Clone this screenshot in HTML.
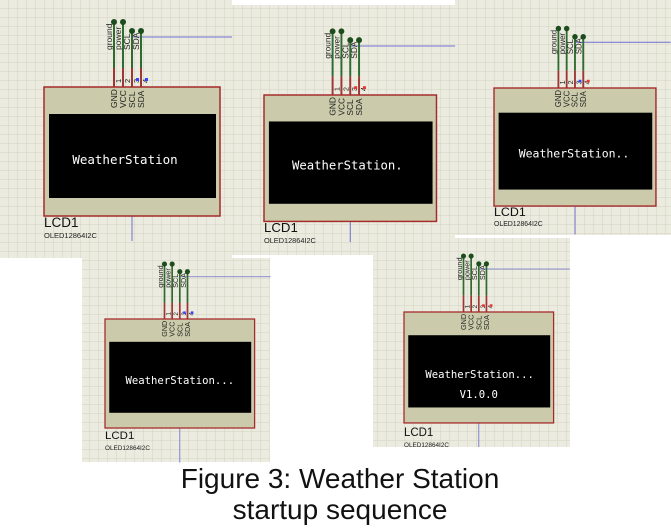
<!DOCTYPE html>
<html><head><meta charset="utf-8"><style>
html,body{margin:0;padding:0;background:#fff;}
svg{display:block;}
.lbl{font-family:"Liberation Sans",Arial,sans-serif;font-size:8.5px;fill:#222;}
.num{font-family:"Liberation Sans",Arial,sans-serif;font-size:7.5px;fill:#222;}
.scr{font-family:"DejaVu Sans Mono","Liberation Mono",monospace;font-size:12.5px;fill:#fff;}
.cap{font-family:"Liberation Sans",Arial,sans-serif;font-size:28px;fill:#111;}
.l1{font-family:"Liberation Sans",Arial,sans-serif;font-size:13.5px;fill:#111;}
.l2{font-family:"Liberation Sans",Arial,sans-serif;font-size:7.5px;fill:#222;}
</style></head><body>
<svg width="671" height="532" viewBox="0 0 671 532" xmlns="http://www.w3.org/2000/svg">
<defs>
<pattern id="g" width="9" height="9" patternUnits="userSpaceOnUse">
<rect width="9" height="9" fill="#ebebdf"/>
<path d="M9 0V9M0 9H9" stroke="#d3d3c3" stroke-width="1" fill="none"/>
</pattern>
</defs>
<rect x="0" y="0" width="232" height="258" fill="url(#g)"/>
<rect x="232" y="5" width="223" height="250" fill="url(#g)"/>
<rect x="455" y="0" width="216" height="235" fill="url(#g)"/>
<rect x="82" y="258" width="188" height="204" fill="url(#g)"/>
<rect x="373" y="238" width="197" height="209" fill="url(#g)"/>

<!-- Panel 1 -->
<g transform="translate(44,87)">
<line x1="88" y1="-50" x2="188" y2="-50" stroke="#7070d0" stroke-width="1"/>
<line x1="88" y1="129" x2="88" y2="154" stroke="#7070d0" stroke-width="1"/>
<g stroke-width="2">
<line x1="70" y1="-65" x2="70" y2="-19" stroke="#2f6b2f"/><line x1="70" y1="-19" x2="70" y2="0" stroke="#a03535"/>
<line x1="79" y1="-65" x2="79" y2="-19" stroke="#2f6b2f"/><line x1="79" y1="-19" x2="79" y2="0" stroke="#a03535"/>
<line x1="88" y1="-56" x2="88" y2="-19" stroke="#2f6b2f"/><line x1="88" y1="-19" x2="88" y2="0" stroke="#a03535"/>
<line x1="97" y1="-56" x2="97" y2="-19" stroke="#2f6b2f"/><line x1="97" y1="-19" x2="97" y2="0" stroke="#a03535"/>
</g>
<circle cx="70" cy="-65" r="3" fill="#1d4d1d"/><circle cx="79" cy="-65" r="3" fill="#1d4d1d"/>
<circle cx="88" cy="-56" r="3" fill="#1d4d1d"/><circle cx="97" cy="-56" r="3" fill="#1d4d1d"/>
<text class="lbl" transform="translate(68,-37) rotate(-90)">ground</text>
<text class="lbl" transform="translate(77,-37) rotate(-90)">power</text>
<text class="lbl" transform="translate(86,-37) rotate(-90)">SCL</text>
<text class="lbl" transform="translate(95,-37) rotate(-90)">SDA</text>
<text class="num" transform="translate(77,-4) rotate(-90)">1</text>
<text class="num" transform="translate(86,-4) rotate(-90)">2</text>
<text class="num" transform="translate(95,-4) rotate(-90)">3</text>
<text class="num" transform="translate(104,-4) rotate(-90)">4</text>
<rect x="92" y="-9" width="3" height="3" fill="#3344ff"/><rect x="101" y="-9" width="3" height="3" fill="#3344ff"/>
<rect x="0" y="0" width="176" height="129" fill="#cbcbab" stroke="#a52a2a" stroke-width="1.5"/>
<text class="lbl" transform="translate(73,21) rotate(-90)">GND</text>
<text class="lbl" transform="translate(82,21) rotate(-90)">VCC</text>
<text class="lbl" transform="translate(91,21) rotate(-90)">SCL</text>
<text class="lbl" transform="translate(100,21) rotate(-90)">SDA</text>
<rect x="5" y="27" width="167" height="84" fill="#000"/>
<text class="scr" x="81" y="77" text-anchor="middle">WeatherStation</text>
<text class="l1" x="0" y="140">LCD1</text>
<text class="l2" x="0" y="151">OLED12864I2C</text>
</g>

<!-- Panel 2 -->
<g transform="translate(264,95) scale(0.98,0.98)">
<line x1="88" y1="-50" x2="195" y2="-50" stroke="#7070d0" stroke-width="1"/>
<line x1="88" y1="129" x2="88" y2="150" stroke="#7070d0" stroke-width="1"/>
<g stroke-width="2">
<line x1="70" y1="-65" x2="70" y2="-19" stroke="#2f6b2f"/><line x1="70" y1="-19" x2="70" y2="0" stroke="#a03535"/>
<line x1="79" y1="-65" x2="79" y2="-19" stroke="#2f6b2f"/><line x1="79" y1="-19" x2="79" y2="0" stroke="#a03535"/>
<line x1="88" y1="-56" x2="88" y2="-19" stroke="#2f6b2f"/><line x1="88" y1="-19" x2="88" y2="0" stroke="#a03535"/>
<line x1="97" y1="-56" x2="97" y2="-19" stroke="#2f6b2f"/><line x1="97" y1="-19" x2="97" y2="0" stroke="#a03535"/>
</g>
<circle cx="70" cy="-65" r="3" fill="#1d4d1d"/><circle cx="79" cy="-65" r="3" fill="#1d4d1d"/>
<circle cx="88" cy="-56" r="3" fill="#1d4d1d"/><circle cx="97" cy="-56" r="3" fill="#1d4d1d"/>
<text class="lbl" transform="translate(68,-37) rotate(-90)">ground</text>
<text class="lbl" transform="translate(77,-37) rotate(-90)">power</text>
<text class="lbl" transform="translate(86,-37) rotate(-90)">SCL</text>
<text class="lbl" transform="translate(95,-37) rotate(-90)">SDA</text>
<text class="num" transform="translate(77,-4) rotate(-90)">1</text>
<text class="num" transform="translate(86,-4) rotate(-90)">2</text>
<text class="num" transform="translate(95,-4) rotate(-90)">3</text>
<text class="num" transform="translate(104,-4) rotate(-90)">4</text>
<rect x="92" y="-9" width="3" height="3" fill="#ee3333"/><rect x="101" y="-9" width="3" height="3" fill="#ee3333"/>
<rect x="0" y="0" width="176" height="129" fill="#cbcbab" stroke="#a52a2a" stroke-width="1.5"/>
<text class="lbl" transform="translate(73,21) rotate(-90)">GND</text>
<text class="lbl" transform="translate(82,21) rotate(-90)">VCC</text>
<text class="lbl" transform="translate(91,21) rotate(-90)">SCL</text>
<text class="lbl" transform="translate(100,21) rotate(-90)">SDA</text>
<rect x="5" y="27" width="167" height="84" fill="#000"/>
<text class="scr" x="85" y="76" text-anchor="middle">WeatherStation.</text>
<text class="l1" x="0" y="140">LCD1</text>
<text class="l2" x="0" y="151">OLED12864I2C</text>
</g>

<!-- Panel 3 -->
<g transform="translate(494,88) scale(0.92,0.915)">
<line x1="88" y1="-50" x2="192" y2="-50" stroke="#7070d0" stroke-width="1"/>
<line x1="88" y1="129" x2="88" y2="160" stroke="#7070d0" stroke-width="1"/>
<g stroke-width="2">
<line x1="70" y1="-65" x2="70" y2="-19" stroke="#2f6b2f"/><line x1="70" y1="-19" x2="70" y2="0" stroke="#a03535"/>
<line x1="79" y1="-65" x2="79" y2="-19" stroke="#2f6b2f"/><line x1="79" y1="-19" x2="79" y2="0" stroke="#a03535"/>
<line x1="88" y1="-56" x2="88" y2="-19" stroke="#2f6b2f"/><line x1="88" y1="-19" x2="88" y2="0" stroke="#a03535"/>
<line x1="97" y1="-56" x2="97" y2="-19" stroke="#2f6b2f"/><line x1="97" y1="-19" x2="97" y2="0" stroke="#a03535"/>
</g>
<circle cx="70" cy="-65" r="3" fill="#1d4d1d"/><circle cx="79" cy="-65" r="3" fill="#1d4d1d"/>
<circle cx="88" cy="-56" r="3" fill="#1d4d1d"/><circle cx="97" cy="-56" r="3" fill="#1d4d1d"/>
<text class="lbl" transform="translate(68,-37) rotate(-90)">ground</text>
<text class="lbl" transform="translate(77,-37) rotate(-90)">power</text>
<text class="lbl" transform="translate(86,-37) rotate(-90)">SCL</text>
<text class="lbl" transform="translate(95,-37) rotate(-90)">SDA</text>
<text class="num" transform="translate(77,-4) rotate(-90)">1</text>
<text class="num" transform="translate(86,-4) rotate(-90)">2</text>
<text class="num" transform="translate(95,-4) rotate(-90)">3</text>
<text class="num" transform="translate(104,-4) rotate(-90)">4</text>
<rect x="92" y="-9" width="3" height="3" fill="#3344ff"/><rect x="101" y="-9" width="3" height="3" fill="#ee3333"/>
<rect x="0" y="0" width="176" height="129" fill="#cbcbab" stroke="#a52a2a" stroke-width="1.5"/>
<text class="lbl" transform="translate(73,21) rotate(-90)">GND</text>
<text class="lbl" transform="translate(82,21) rotate(-90)">VCC</text>
<text class="lbl" transform="translate(91,21) rotate(-90)">SCL</text>
<text class="lbl" transform="translate(100,21) rotate(-90)">SDA</text>
<rect x="5" y="27" width="167" height="84" fill="#000"/>
<text class="scr" x="87" y="76" text-anchor="middle">WeatherStation..</text>
<text class="l1" x="0" y="140">LCD1</text>
<text class="l2" x="0" y="151">OLED12864I2C</text>
</g>

<!-- Panel 4 -->
<g transform="translate(105,319) scale(0.85,0.845)">
<line x1="88" y1="-50" x2="195" y2="-50" stroke="#7070d0" stroke-width="1"/>
<line x1="88" y1="129" x2="88" y2="170" stroke="#7070d0" stroke-width="1"/>
<g stroke-width="2">
<line x1="70" y1="-65" x2="70" y2="-19" stroke="#2f6b2f"/><line x1="70" y1="-19" x2="70" y2="0" stroke="#a03535"/>
<line x1="79" y1="-65" x2="79" y2="-19" stroke="#2f6b2f"/><line x1="79" y1="-19" x2="79" y2="0" stroke="#a03535"/>
<line x1="88" y1="-56" x2="88" y2="-19" stroke="#2f6b2f"/><line x1="88" y1="-19" x2="88" y2="0" stroke="#a03535"/>
<line x1="97" y1="-56" x2="97" y2="-19" stroke="#2f6b2f"/><line x1="97" y1="-19" x2="97" y2="0" stroke="#a03535"/>
</g>
<circle cx="70" cy="-65" r="3" fill="#1d4d1d"/><circle cx="79" cy="-65" r="3" fill="#1d4d1d"/>
<circle cx="88" cy="-56" r="3" fill="#1d4d1d"/><circle cx="97" cy="-56" r="3" fill="#1d4d1d"/>
<text class="lbl" transform="translate(68,-37) rotate(-90)">ground</text>
<text class="lbl" transform="translate(77,-37) rotate(-90)">power</text>
<text class="lbl" transform="translate(86,-37) rotate(-90)">SCL</text>
<text class="lbl" transform="translate(95,-37) rotate(-90)">SDA</text>
<text class="num" transform="translate(77,-4) rotate(-90)">1</text>
<text class="num" transform="translate(86,-4) rotate(-90)">2</text>
<text class="num" transform="translate(95,-4) rotate(-90)">3</text>
<text class="num" transform="translate(104,-4) rotate(-90)">4</text>
<rect x="92" y="-9" width="3" height="3" fill="#3344ff"/><rect x="101" y="-9" width="3" height="3" fill="#3344ff"/>
<rect x="0" y="0" width="176" height="129" fill="#cbcbab" stroke="#a52a2a" stroke-width="1.5"/>
<text class="lbl" transform="translate(73,21) rotate(-90)">GND</text>
<text class="lbl" transform="translate(82,21) rotate(-90)">VCC</text>
<text class="lbl" transform="translate(91,21) rotate(-90)">SCL</text>
<text class="lbl" transform="translate(100,21) rotate(-90)">SDA</text>
<rect x="5" y="27" width="167" height="84" fill="#000"/>
<text class="scr" x="88" y="77" text-anchor="middle">WeatherStation...</text>
<text class="l1" x="0" y="142" font-size="15">LCD1</text>
<text class="l2" x="0" y="155" font-size="8.5">OLED12864I2C</text>
</g>

<!-- Panel 5 -->
<g transform="translate(404,312) scale(0.85,0.86)">
<line x1="88" y1="-50" x2="195" y2="-50" stroke="#7070d0" stroke-width="1"/>
<line x1="88" y1="129" x2="88" y2="157" stroke="#7070d0" stroke-width="1"/>
<g stroke-width="2">
<line x1="70" y1="-65" x2="70" y2="-19" stroke="#2f6b2f"/><line x1="70" y1="-19" x2="70" y2="0" stroke="#a03535"/>
<line x1="79" y1="-65" x2="79" y2="-19" stroke="#2f6b2f"/><line x1="79" y1="-19" x2="79" y2="0" stroke="#a03535"/>
<line x1="88" y1="-56" x2="88" y2="-19" stroke="#2f6b2f"/><line x1="88" y1="-19" x2="88" y2="0" stroke="#a03535"/>
<line x1="97" y1="-56" x2="97" y2="-19" stroke="#2f6b2f"/><line x1="97" y1="-19" x2="97" y2="0" stroke="#a03535"/>
</g>
<circle cx="70" cy="-65" r="3" fill="#1d4d1d"/><circle cx="79" cy="-65" r="3" fill="#1d4d1d"/>
<circle cx="88" cy="-56" r="3" fill="#1d4d1d"/><circle cx="97" cy="-56" r="3" fill="#1d4d1d"/>
<text class="lbl" transform="translate(68,-37) rotate(-90)">ground</text>
<text class="lbl" transform="translate(77,-37) rotate(-90)">power</text>
<text class="lbl" transform="translate(86,-37) rotate(-90)">SCL</text>
<text class="lbl" transform="translate(95,-37) rotate(-90)">SDA</text>
<text class="num" transform="translate(77,-4) rotate(-90)">1</text>
<text class="num" transform="translate(86,-4) rotate(-90)">2</text>
<text class="num" transform="translate(95,-4) rotate(-90)">3</text>
<text class="num" transform="translate(104,-4) rotate(-90)">4</text>
<rect x="92" y="-9" width="3" height="3" fill="#ee3333"/><rect x="101" y="-9" width="3" height="3" fill="#ee3333"/>
<rect x="0" y="0" width="176" height="129" fill="#cbcbab" stroke="#a52a2a" stroke-width="1.5"/>
<text class="lbl" transform="translate(73,21) rotate(-90)">GND</text>
<text class="lbl" transform="translate(82,21) rotate(-90)">VCC</text>
<text class="lbl" transform="translate(91,21) rotate(-90)">SCL</text>
<text class="lbl" transform="translate(100,21) rotate(-90)">SDA</text>
<rect x="5" y="27" width="167" height="84" fill="#000"/>
<text class="scr" x="89" y="77" text-anchor="middle">WeatherStation...</text>
<text class="scr" x="88" y="100" text-anchor="middle">V1.0.0</text>
<text class="l1" x="0" y="144" font-size="15">LCD1</text>
<text class="l2" x="0" y="157" font-size="8.5">OLED12864I2C</text>
</g>

<text class="cap" x="340" y="488" text-anchor="middle">Figure 3: Weather Station</text>
<text class="cap" x="340" y="519" text-anchor="middle">startup sequence</text>
</svg>
</body></html>
